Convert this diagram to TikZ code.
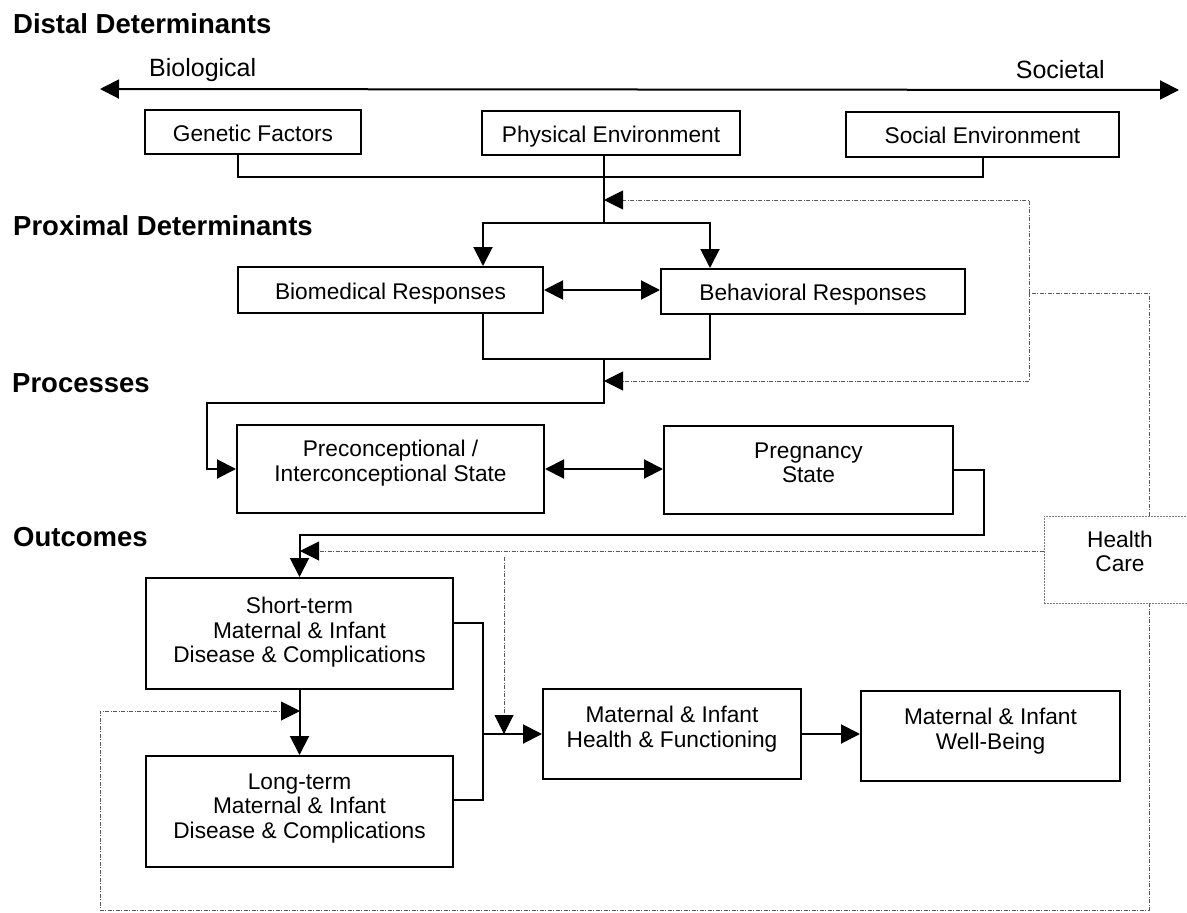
\documentclass[tikz,border=0pt]{standalone}
\usepackage{fontspec}
\setmainfont{Liberation Sans}
\usetikzlibrary{arrows.meta}

\newcommand\hdfont{\fontsize{27.5}{30}\selectfont\bfseries}
\newcommand\axfont{\fontsize{25}{28}\selectfont}
\newcommand\bxfont{\fontsize{22.7}{24.5}\selectfont}

\tikzset{
  box/.style={draw, line width=2pt, inner sep=0pt, font=\bxfont, text height=18pt, text depth=0pt},
  boxtext/.style={align=center, inner sep=0pt, font=\bxfont},
  hcbox/.style={draw=black!50, line width=0.8pt, dash pattern=on 2pt off 1pt, inner sep=0pt},
  conn/.style={line width=2pt},
  hcline/.style={draw=black!65, line width=1pt, dash pattern=on 4pt off 1.5pt on 1pt off 1.5pt},
  arw/.style={-{Triangle[length=19pt,width=19pt,color=black]}},
  dblarw/.style={{Triangle[length=19pt,width=19pt]}-{Triangle[length=19pt,width=19pt]}},
  heading/.style={anchor=base west, inner sep=0pt, font=\hdfont}
}

\begin{document}
\begin{tikzpicture}[x=1pt,y=-1pt]
\useasboundingbox (0,0) rectangle (1187,913);

% Section headings
\node[heading] (distal) at (13,33) {Distal Determinants};
\node[heading] (proximal) at (13,235) {Proximal Determinants};
\node[heading] (processes) at (12,392) {Processes};
\node[heading] (outcomes) at (13,546) {Outcomes};

% Biological -- Societal axis
\coordinate (bioend) at (100,89);
\coordinate (socend) at (1179,90);
\draw[conn,dblarw] (bioend) -- (socend);
\node[anchor=base west,inner sep=0pt,font=\axfont] (biological) at (149,76) {Biological};
\node[anchor=base east,inner sep=0pt,font=\axfont] (societal) at (1105,78) {Societal};

% Distal determinants
\node[box,minimum width=216pt,minimum height=44pt] (genetic) at (253,132) {Genetic Factors};
\node[box,minimum width=258pt,minimum height=44pt] (physical) at (611,133) {Physical Environment};
\node[box,minimum width=273pt,minimum height=45pt] (social) at (982.5,134.5) {Social Environment};

% Proximal determinants
\node[box,minimum width=305pt,minimum height=46pt] (biomed) at (390.5,290) {Biomedical Responses};
\node[box,minimum width=304pt,minimum height=45pt] (behav) at (813,291.5) {Behavioral Responses};

% Processes
\node[box,minimum width=307pt,minimum height=88pt] (precon) at (390.5,469) {};
\node[boxtext] (precontext) at ([yshift=6pt]precon.center) {Preconceptional /\\Interconceptional State};
\node[box,minimum width=289pt,minimum height=88pt] (preg) at (808.5,470) {};
\node[boxtext] (pregtext) at ([yshift=7pt]preg.center) {Pregnancy\\State};

% Outcomes
\node[box,minimum width=307pt,minimum height=111pt] (shortterm) at (299.5,633.5) {};
\node[boxtext] (shorttermtext) at ([yshift=1pt]shortterm.center) {Short-term\\Maternal \& Infant\\Disease \& Complications};
\node[box,minimum width=307pt,minimum height=111pt] (longterm) at (299.5,811.5) {};
\node[boxtext] (longtermtext) at ([yshift=3pt]longterm.center) {Long-term\\Maternal \& Infant\\Disease \& Complications};
\node[box,minimum width=258pt,minimum height=90pt] (mihealth) at (672,734) {};
\node[boxtext] (mihealthtext) at ([yshift=5pt]mihealth.center) {Maternal \& Infant\\Health \& Functioning};
\node[box,minimum width=259pt,minimum height=90pt] (wellbeing) at (990.5,736) {};
\node[boxtext] (wellbeingtext) at ([yshift=5pt]wellbeing.center) {Maternal \& Infant\\Well-Being};

% Health care
\node[hcbox,minimum width=152pt,minimum height=87pt] (healthcare) at (1120,559.5) {};
\node[boxtext] (healthcaretext) at ([yshift=8pt]healthcare.center) {Health\\Care};

% Junction points
\coordinate (hub) at (604,177);
\coordinate (split) at (604,223);
\coordinate (join) at (604,359);
\coordinate (loopcorner) at (207,403);
\coordinate (pregdrop) at (984,535);
\coordinate (outjoin) at (483,734);

% Solid connectors
\draw[conn] ([xshift=-15pt]genetic.south) |- (hub) -| (social.south);
\draw[conn] ([xshift=-7pt]physical.south) -- (split);
\draw[conn,arw] (split) -| ([xshift=92.5pt]biomed.north);
\draw[conn,arw] (split) -| ([xshift=-103pt]behav.north);
\draw[conn,dblarw] (biomed.east) -- (biomed.east -| behav.west);
\draw[conn] ([xshift=92.5pt]biomed.south) |- (join) -| ([xshift=-103pt]behav.south);
\draw[conn,arw] (join) |- (loopcorner) |- (precon.west);
\draw[conn,dblarw] (precon.east) -- (precon.east -| preg.west);
\draw[conn,arw] (preg.east) -| (pregdrop) -| (shortterm.north);
\draw[conn,arw] (shortterm) -- (longterm);
\draw[conn] ([yshift=10.5pt]shortterm.east) -| (outjoin) |- ([yshift=11.5pt]longterm.east);
\draw[conn,arw] (outjoin) -- (mihealth.west);
\draw[conn,arw] (mihealth.east) -- (mihealth.east -| wellbeing.west);

% Health care feedback (dotted)
\coordinate (hcbranch) at (1029,293);
\coordinate (distalin) at (604,200);
\coordinate (proxin) at (604,381);
\coordinate (procin) at (300,551);
\coordinate (hcdrop) at (504,557);
\coordinate (outin) at (504,734);
\coordinate (hccorner) at (100,910);
\coordinate (longin) at (300,711);
\draw[hcline] ([xshift=29pt]healthcare.north) |- (hcbranch);
\draw[hcline,arw] (hcbranch) |- (distalin);
\draw[hcline,arw] (hcbranch) |- (proxin);
\draw[hcline,arw] ([yshift=8.5pt]healthcare.west) -- (procin);
\draw[hcline,arw] (hcdrop) -- (outin);
\draw[hcline,arw] ([xshift=29pt]healthcare.south) |- (hccorner) |- (longin);

\end{tikzpicture}
\end{document}
